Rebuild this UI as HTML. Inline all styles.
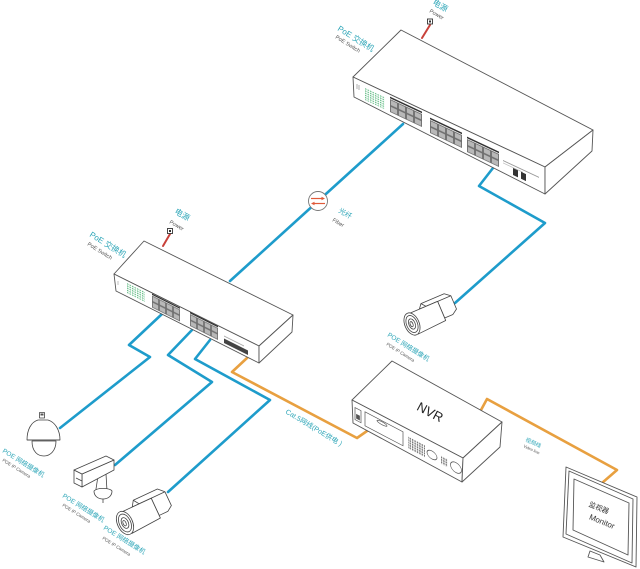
<!DOCTYPE html>
<html><head><meta charset="utf-8"><style>
html,body{margin:0;padding:0;background:#fff;}
svg{display:block;}
text{font-family:"Liberation Sans","Noto Sans CJK SC",sans-serif;}
.t{fill:#2ea6b8;}
.e{fill:#555;}
</style></head><body>
<svg width="640" height="569" viewBox="0 0 640 569" xmlns="http://www.w3.org/2000/svg">
<defs>
<pattern id="pb" width="8" height="6.5" patternUnits="userSpaceOnUse"><rect width="8" height="6.5" fill="#6e6e6e"/><rect x="0.9" y="0.9" width="6.2" height="4.8" fill="#b8b8b8"/></pattern>
<pattern id="ps" width="7" height="6" patternUnits="userSpaceOnUse"><rect width="7" height="6" fill="#6e6e6e"/><rect x="0.8" y="0.8" width="5.4" height="4.4" fill="#b8b8b8"/></pattern>
<pattern id="pv" width="2.5" height="2.2" patternUnits="userSpaceOnUse"><rect width="1.5" height="1.3" fill="#6cc08c"/></pattern>
<pattern id="pn" width="2.4" height="2.4" patternUnits="userSpaceOnUse"><rect width="1.4" height="1.8" fill="#777"/></pattern>
</defs>

<!-- connection lines -->
<g fill="none" stroke-linejoin="round" stroke-linecap="round">
<g stroke="#1e9ccb" stroke-width="2.6">
<polyline points="403,124 230,281"/>
<polyline points="493,168 479,186 545,223 455,303"/>
<polyline points="162,314 129,345 150,357 60,428"/>
<polyline points="192,330 168,355 212,382 115,465"/>
<polyline points="210,340 195,359 270,400 168,492"/>
</g>
<g stroke="#e8a040" stroke-width="2.6">
<polyline points="247,358 232,372 357,438 367,431"/>
<polyline points="481,410 487,399 617,470 602,483"/>
</g>
<g stroke="#c8413a" stroke-width="2">
<line x1="422" y1="38" x2="430" y2="25"/>
<line x1="163" y1="246" x2="170" y2="234"/>
</g>
</g>

<!-- power plugs -->
<g fill="#fff" stroke="#333" stroke-width="0.9">
<rect x="427.5" y="19" width="5" height="5"/>
<rect x="167.5" y="228.5" width="5" height="5"/>
</g>
<rect x="429" y="20.5" width="2" height="2" fill="#333"/>
<rect x="169" y="230" width="2" height="2" fill="#333"/>

<!-- fiber circle -->
<circle cx="318" cy="201" r="9.5" fill="#fff" stroke="#777" stroke-width="0.9"/>
<g stroke="#e05a3a" stroke-width="1.2" fill="#e05a3a">
<line x1="311" y1="198.5" x2="323" y2="198.5"/>
<polygon points="325,198.5 321.5,196.8 321.5,200.2" stroke="none"/>
<line x1="313" y1="203.5" x2="325" y2="203.5"/>
<polygon points="311,203.5 314.5,201.8 314.5,205.2" stroke="none"/>
</g>

<!-- BIG SWITCH -->
<g stroke="#555" stroke-width="0.9" stroke-linejoin="round" fill="#fff">
<polygon points="401,30 593,130 545,167 353,77"/>
<polygon points="353,77 545,167 545,194 354,97"/>
<polygon points="545,167 593,130 592,151 545,194"/>
</g>
<g transform="matrix(1,0.47,0,1,390,99)"><rect x="0" y="-2.4" width="32" height="1.6" fill="#333"/><rect width="32" height="13" fill="url(#pb)"/></g>
<g transform="matrix(1,0.47,0,1,430,120)"><rect x="0" y="-2.4" width="32" height="1.6" fill="#333"/><rect width="32" height="13" fill="url(#pb)"/></g>
<g transform="matrix(1,0.47,0,1,467,139)"><rect x="0" y="-2.4" width="32" height="1.6" fill="#333"/><rect width="32" height="13" fill="url(#pb)"/></g>
<g transform="matrix(1,0.47,0,1,365,88)"><rect width="20" height="12" fill="url(#pv)"/></g>
<g stroke="#777" stroke-width="0.6"><line x1="357" y1="84" x2="357" y2="89"/><line x1="359" y1="85" x2="359" y2="90"/></g>
<g transform="matrix(1,0.47,0,1,503,160)"><rect width="36" height="1" fill="#999"/><rect y="2.5" width="20" height="0.8" fill="#bbb"/></g>
<g transform="matrix(1,0.47,0,1,513,168)" fill="#333"><rect width="5" height="7"/><rect x="8" width="5" height="7"/></g>

<!-- SMALL SWITCH -->
<g stroke="#555" stroke-width="0.9" stroke-linejoin="round" fill="#fff">
<polygon points="144,241 293,315 259,346 114,274"/>
<polygon points="114,274 259,346 259,363 116,291"/>
<polygon points="259,346 293,315 292,332 259,363"/>
</g>
<g transform="matrix(1,0.5,0,1,152,295.5)"><rect x="0" y="-2" width="28" height="1.4" fill="#333"/><rect width="28" height="12" fill="url(#ps)"/></g>
<g transform="matrix(1,0.5,0,1,190,314)"><rect x="0" y="-2" width="28" height="1.4" fill="#333"/><rect width="28" height="12" fill="url(#ps)"/></g>
<g transform="matrix(1,0.5,0,1,127,283)"><rect width="18" height="10" fill="url(#pv)"/></g>
<g transform="matrix(1,0.5,0,1,224,338.5)"><rect width="24" height="4.5" fill="#444"/><rect y="-3" width="20" height="1" fill="#aaa"/></g>
<g stroke="#999" stroke-width="0.6"><line x1="118" y1="281" x2="118" y2="285"/></g>

<!-- NVR -->
<g stroke="#555" stroke-width="0.9" stroke-linejoin="round" fill="#fff">
<polygon points="392,361 502,422 463,458 352,400"/>
<polygon points="352,400 463,458 462,482 353,423"/>
<polygon points="463,458 502,422 500,447 462,482"/>
</g>
<g transform="matrix(1,0.525,0,1,352,400)" stroke="#555" stroke-width="0.7" fill="#fff">
<rect x="3" y="6" width="6" height="12"/>
<rect x="4.5" y="12" width="3" height="4" fill="#555"/>
<rect x="13" y="5" width="38" height="14"/>
<ellipse cx="30" cy="7.5" rx="5" ry="1.5"/>
<rect x="56" y="7" width="17" height="12" fill="url(#pn)" stroke="none"/>
<ellipse cx="80" cy="13" rx="5" ry="4"/>
<rect x="89" y="9" width="7" height="8" fill="url(#pn)" stroke="none"/>
<ellipse cx="104" cy="13" rx="5.5" ry="5"/>
</g>
<text transform="translate(428,416) rotate(28)" text-anchor="middle" font-size="13" fill="#222">NVR</text>

<!-- MONITOR -->
<g stroke="#555" stroke-width="0.9" stroke-linejoin="round" fill="#fff">
<polygon points="590,551 600,555 604,562 588,557"/>
<polygon points="566,467 637,497 636,567 563,537"/>
<polygon points="569,471 633,499 632,563 566,534" fill="none"/>
<polygon points="574,479 629,503 628,555 573,530"/>
</g>
<text transform="translate(598,510) rotate(22)" text-anchor="middle" font-size="7" fill="#333">监视器</text>
<text transform="translate(601,524) rotate(22)" text-anchor="middle" font-size="8" fill="#333">Monitor</text>

<!-- DOME CAMERA -->
<g stroke="#444" stroke-width="0.8" fill="#fff" stroke-linejoin="round">
<rect x="39.5" y="412.5" width="5" height="5.5" fill="#fff"/>
<rect x="40.5" y="413.5" width="3" height="2" fill="#555" stroke="none"/>
<path d="M32,441 C32,452 38,456 44,456 C50,456 56,451 56,441 Z"/>
<path d="M27,440 C27,430 31,422 38,420 L48,420 C55,422 60,430 60,440 Z"/>
<line x1="27" y1="440" x2="60" y2="440"/>
</g>

<!-- BOX CAMERA -->
<g stroke="#444" stroke-width="0.8" fill="#fff" stroke-linejoin="round">
<path d="M98,476 L96,489 L101,494 L107,491 L106,474 Z"/>
<path d="M94,491 C94,496 98,499 103,499 C108,499 112,496 112,491 C110,488 98,487 94,491 Z"/>
<line x1="103" y1="499" x2="103" y2="503"/>
<polygon points="82,474 114,460 114,470 82,487"/>
<polygon points="74,470 82,474 82,487 74,483"/>
<polygon points="74,470 106,456 114,460 82,474"/>
<line x1="76" y1="478" x2="82" y2="481"/>
</g>

<!-- BULLET CAMERA (bottom) -->
<g transform="translate(125,523) rotate(-25) scale(0.95)" stroke="#444" stroke-width="0.85" fill="#fff" stroke-linejoin="round">
<path d="M14,-12 L18,-18 L46,-18 L52,-12 L52,4 L46,8 L36,8 L36,-12 Z"/>
<path d="M18,-18 L22,-12 L52,-12" fill="none"/>
<path d="M2,-12 L36,-12 L36,11 L2,13 Z"/>
<ellipse cx="0" cy="0" rx="8" ry="13"/>
<ellipse cx="0" cy="0" rx="6" ry="10"/>
<ellipse cx="0" cy="0" rx="3.5" ry="6"/>
<ellipse cx="-0.5" cy="0" rx="1.5" ry="3"/>
</g>

<!-- BULLET CAMERA (right) -->
<g transform="translate(412,324) rotate(-23) scale(0.9)" stroke="#444" stroke-width="0.9" fill="#fff" stroke-linejoin="round">
<path d="M14,-12 L18,-17 L46,-17 L52,-12 L52,4 L46,8 L36,8 L36,-12 Z"/>
<path d="M18,-17 L22,-12 L52,-12" fill="none"/>
<path d="M2,-12 L36,-12 L36,11 L2,13 Z"/>
<ellipse cx="0" cy="0" rx="8" ry="13"/>
<ellipse cx="0" cy="0" rx="6" ry="10"/>
<ellipse cx="0" cy="0" rx="3.5" ry="6"/>
<ellipse cx="-0.5" cy="0" rx="1.5" ry="3"/>
</g>

<!-- LABELS -->
<text transform="translate(337,30) rotate(32)" class="t" font-size="8">PoE 交换机</text>
<text transform="translate(335,38) rotate(32)" class="e" font-size="5.5">PoE Switch</text>
<text transform="translate(432,4) rotate(30)" class="t" font-size="8">电源</text>
<text transform="translate(429,12) rotate(30)" class="e" font-size="5.5">Power</text>

<text transform="translate(89,236) rotate(32)" class="t" font-size="8">PoE 交换机</text>
<text transform="translate(87,245) rotate(32)" class="e" font-size="5.5">PoE Switch</text>
<text transform="translate(174,213) rotate(30)" class="t" font-size="8">电源</text>
<text transform="translate(169,223) rotate(30)" class="e" font-size="5.5">Power</text>

<text transform="translate(338,212) rotate(30)" class="t" font-size="7">光纤</text>
<text transform="translate(332,221) rotate(30)" class="e" font-size="5.5">Fiber</text>

<text transform="translate(387,336) rotate(32)" class="t" font-size="6.5">POE 网络摄像机</text>
<text transform="translate(386,345) rotate(32)" class="e" font-size="4.5">POE IP Camera</text>

<text transform="translate(2,452) rotate(32)" class="t" font-size="6.5">POE 网络摄像机</text>
<text transform="translate(2,461) rotate(32)" class="e" font-size="4.5">POE IP Camera</text>

<text transform="translate(62,497) rotate(32)" class="t" font-size="6.5">POE 网络摄像机</text>
<text transform="translate(62,506) rotate(32)" class="e" font-size="4.5">POE IP Camera</text>

<text transform="translate(103,529) rotate(32)" class="t" font-size="6.5">POE 网络摄像机</text>
<text transform="translate(102,539) rotate(32)" class="e" font-size="4.5">POE IP Camera</text>

<text transform="translate(285,413) rotate(31)" class="t" font-size="7">Cat.5网线(PoE供电 )</text>

<text transform="translate(525,441) rotate(25)" class="t" font-size="5.5">视频线</text>
<text transform="translate(523,447) rotate(25)" class="e" font-size="4">Video line</text>
</svg>
</body></html>
